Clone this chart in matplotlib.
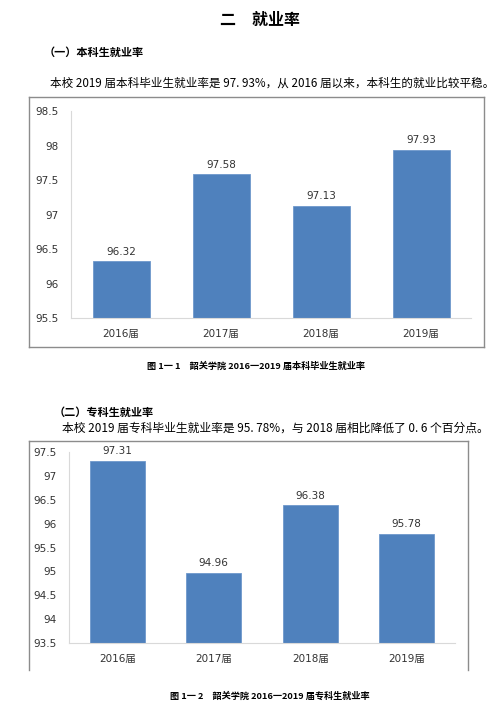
import matplotlib.pyplot as plt
from matplotlib.lines import Line2D

plt.rcParams['font.family'] = ['DejaVu Sans', 'Noto Sans CJK SC']

# data
years = ['2016届', '2017届', '2018届', '2019届']
bk_rate = [96.32, 97.58, 97.13, 97.93]   # 本科
zk_rate = [97.31, 94.96, 96.38, 95.78]   # 专科
bk_ticks = [95.5, 96, 96.5, 97, 97.5, 98, 98.5]
zk_ticks = [93.5, 94, 94.5, 95, 95.5, 96, 96.5, 97, 97.5]

W, H = 501, 713
fig = plt.figure(figsize=(W / 100, H / 100), dpi=100)
cjk = ['Noto Sans CJK SC', 'DejaVu Sans']
txt = '#000000'
blue = '#4F81BD'

def ftext(x, y, s, **kw):
    # x, y in pixels from the top left
    fig.text(x / W, 1 - y / H, s, family=cjk, va='center', **kw)

def box(l, t, r, b, bottom=True):
    xs = [l / W, r / W]
    ys = [1 - t / H, 1 - b / H]
    col = '#8c8c8c'
    fig.add_artist(Line2D([xs[0], xs[1]], [ys[0], ys[0]], color=col, lw=1))
    fig.add_artist(Line2D([xs[0], xs[0]], [ys[0], ys[1]], color=col, lw=1))
    fig.add_artist(Line2D([xs[1], xs[1]], [ys[0], ys[1]], color=col, lw=1))
    if bottom:
        fig.add_artist(Line2D([xs[0], xs[1]], [ys[1], ys[1]], color=col, lw=1))

def bar_chart(l, t, r, b, vals, ticks):
    ax = fig.add_axes([l / W, 1 - b / H, (r - l) / W, (b - t) / H])
    bars = ax.bar(range(len(years)), vals, width=0.57, color=blue,
                  edgecolor='#6f98cc', linewidth=0.6)
    ax.set_xlim(-0.5, len(years) - 0.5)
    ax.set_ylim(ticks[0], ticks[-1])
    ax.set_yticks(ticks)
    ax.set_yticklabels(['%g' % v for v in ticks])
    ax.set_xticks(range(len(years)))
    ax.set_xticklabels(years)
    ax.tick_params(length=0, labelsize=7.5, colors='#333333')
    ax.tick_params(axis='y', pad=9)
    ax.tick_params(axis='x', pad=8)
    for s in ['top', 'right']:
        ax.spines[s].set_visible(False)
    for s in ['left', 'bottom']:
        ax.spines[s].set_color('#d9d9d9')
        ax.spines[s].set_linewidth(0.8)
    for rect, v in zip(bars, vals):
        ax.annotate('%.2f' % v, (rect.get_x() + rect.get_width() / 2, v),
                    xytext=(0, 3.5), textcoords='offset points',
                    ha='center', va='bottom', fontsize=7.5, color='#333333')
    return ax

# page text
ftext(260, 20, '二　就业率', fontsize=11.5, ha='center', weight='bold', color=txt)
ftext(44, 52, '（一）本科生就业率', fontsize=8, ha='left', weight='bold', color=txt)
ftext(50, 83, '本校 2019 届本科毕业生就业率是 97. 93%，从 2016 届以来，本科生的就业比较平稳。',
      fontsize=8.35, ha='left', color=txt)

box(29, 97, 484, 347)
bar_chart(71, 111, 471, 318, bk_rate, bk_ticks)

ftext(256, 366, '图 1一 1　韶关学院 2016一2019 届本科毕业生就业率', fontsize=6.6,
      ha='center', weight='bold', color=txt)

ftext(54, 412, '（二）专科生就业率', fontsize=8, ha='left', weight='bold', color=txt)
ftext(62, 428, '本校 2019 届专科毕业生就业率是 95. 78%，与 2018 届相比降低了 0. 6 个百分点。',
      fontsize=8.5, ha='left', color=txt)

box(29, 441, 468, 670, bottom=False)
bar_chart(69, 452, 455, 643, zk_rate, zk_ticks)

ftext(270, 696, '图 1一 2　韶关学院 2016一2019 届专科生就业率', fontsize=6.6,
      ha='center', weight='bold', color=txt)

fig.savefig('out.png', dpi=100)
